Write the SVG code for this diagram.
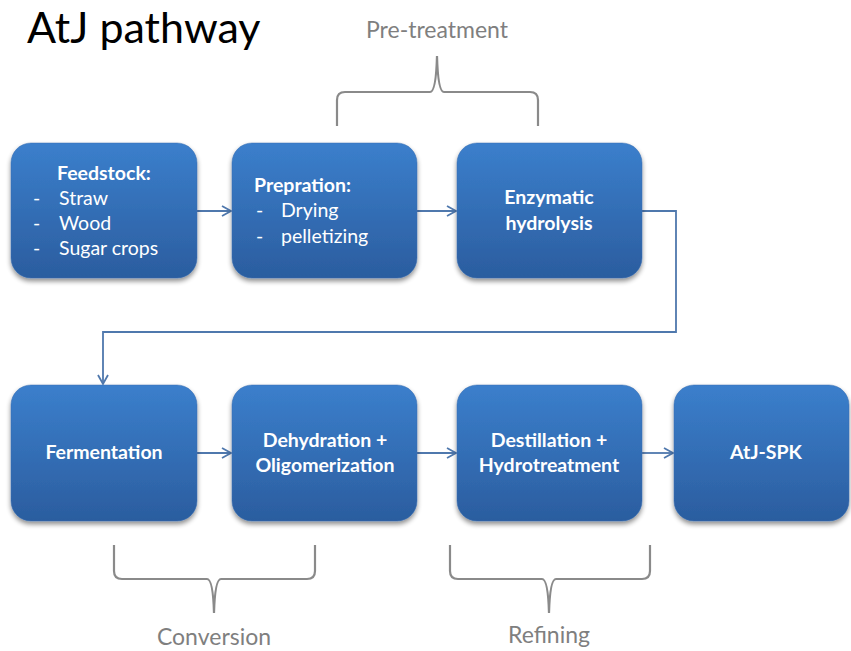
<svg xmlns="http://www.w3.org/2000/svg" width="851" height="651" viewBox="0 0 851 651">
<defs>
<linearGradient id="g" x1="0" y1="0" x2="0" y2="1">
<stop offset="0" stop-color="#3b7fcc"/>
<stop offset="1" stop-color="#2b5d9f"/>
</linearGradient>
<filter id="sh" x="-10%" y="-10%" width="125%" height="130%">
<feGaussianBlur in="SourceAlpha" stdDeviation="2.5"/>
<feOffset dx="0" dy="3" result="b"/>
<feComponentTransfer><feFuncA type="linear" slope="0.45"/></feComponentTransfer>
<feMerge><feMergeNode/><feMergeNode in="SourceGraphic"/></feMerge>
</filter>
<marker id="ah" markerWidth="12" markerHeight="12" refX="10" refY="6" orient="auto" markerUnits="userSpaceOnUse">
<path d="M1,1 L10,6 L1,11" fill="none" stroke="#4f78ad" stroke-width="1.8"/>
</marker>
</defs>
<style>
.box{fill:url(#g);filter:url(#sh);stroke:#3a6fb0;stroke-width:0.5}
.t{font-family:Lato,"Open Sans",sans-serif;font-size:19.5px;fill:#fff}
.b{font-weight:bold}
.c{text-anchor:middle}
.lbl{font-family:Lato,"Open Sans",sans-serif;font-size:23px;fill:#7f7f7f;text-anchor:middle}
.con{fill:none;stroke:#4f78ad;stroke-width:1.8}
.br{fill:none;stroke:#8a8a8a;stroke-width:2.2}
</style>
<rect width="851" height="651" fill="#fff"/>
<text x="27" y="43" font-family="Lato,'Open Sans',sans-serif" font-size="43" fill="#000">AtJ pathway</text>

<g id="braces">
<path class="br" d="M337,126 L337,100 Q337,92 345,92 L430,92 Q436,92 437,56 Q438,92 444,92 L530,92 Q538,92 538,100 L538,126"/>
<path class="br" d="M114,545 L114,571 Q114,579 122,579 L207,579 Q213,579 214,613 Q215,579 221,579 L307,579 Q315,579 315,571 L315,545"/>
<path class="br" d="M450,545 L450,571 Q450,579 458,579 L542,579 Q548,579 549,613 Q550,579 556,579 L642,579 Q650,579 650,571 L650,545"/>
</g>
<text class="lbl" x="437" y="38">Pre-treatment</text>
<text class="lbl" x="214" y="645">Conversion</text>
<text class="lbl" x="549" y="643">Refining</text>

<g id="connectors">
<path class="con" d="M197,211 L231,211" marker-end="url(#ah)"/>
<path class="con" d="M417,211 L456,211" marker-end="url(#ah)"/>
<path class="con" d="M642,211 L676,211 L676,332 L103,332 L103,384" marker-end="url(#ah)"/>
<path class="con" d="M197,453 L231,453" marker-end="url(#ah)"/>
<path class="con" d="M417,453 L456,453" marker-end="url(#ah)"/>
<path class="con" d="M642,453 L673,453" marker-end="url(#ah)"/>
</g>

<g id="feedstock">
<rect class="box" x="11" y="143" width="186" height="135" rx="20"/>
<text class="t b" x="57" y="180">Feedstock:</text>
<text class="t" x="33" y="205">-</text><text class="t" x="59" y="205">Straw</text>
<text class="t" x="33" y="230">-</text><text class="t" x="59" y="230">Wood</text>
<text class="t" x="33" y="255">-</text><text class="t" x="59" y="255">Sugar crops</text>
</g>
<g id="prepration">
<rect class="box" x="232" y="143" width="185" height="135" rx="20"/>
<text class="t b" x="254" y="192">Prepration:</text>
<text class="t" x="256" y="217">-</text><text class="t" x="281" y="217">Drying</text>
<text class="t" x="256" y="243">-</text><text class="t" x="281" y="243">pelletizing</text>
</g>
<g id="enzymatic">
<rect class="box" x="457" y="143" width="185" height="135" rx="20"/>
<text class="t b c" x="549" y="204">Enzymatic</text>
<text class="t b c" x="549" y="230">hydrolysis</text>
</g>
<g id="fermentation">
<rect class="box" x="11" y="385" width="186" height="136" rx="20"/>
<text class="t b c" x="104" y="459">Fermentation</text>
</g>
<g id="dehydration">
<rect class="box" x="232" y="385" width="185" height="136" rx="20"/>
<text class="t b c" x="325" y="447">Dehydration +</text>
<text class="t b c" x="325" y="472">Oligomerization</text>
</g>
<g id="destillation">
<rect class="box" x="457" y="385" width="185" height="136" rx="20"/>
<text class="t b c" x="549" y="447">Destillation +</text>
<text class="t b c" x="549" y="472">Hydrotreatment</text>
</g>
<g id="atjspk">
<rect class="box" x="674" y="385" width="175" height="136" rx="20"/>
<text class="t b c" x="766" y="459">AtJ-SPK</text>
</g>
</svg>
